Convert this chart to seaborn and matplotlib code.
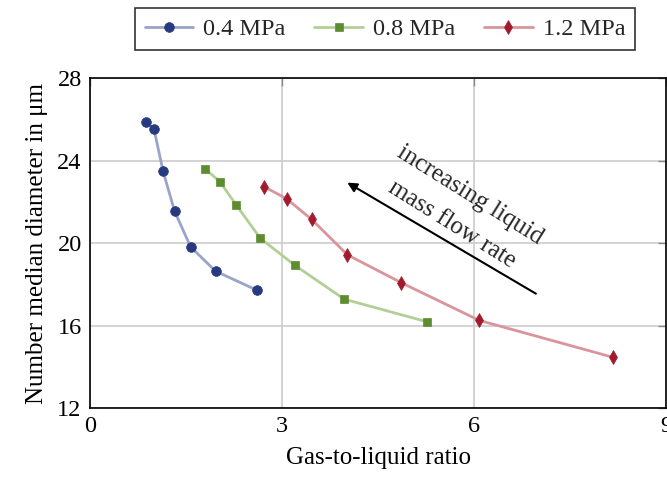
import matplotlib
matplotlib.use("Agg")
import matplotlib.pyplot as plt
import seaborn as sns
import pandas as pd

# Gas-to-liquid ratio and number median diameter for each atomizing pressure
glr_04 = [0.87, 1.00, 1.14, 1.32, 1.57, 1.96, 2.61]
d_04 = [25.87, 25.51, 23.49, 21.55, 19.82, 18.64, 17.71]

glr_08 = [1.80, 2.03, 2.28, 2.66, 3.20, 3.97, 5.27]
d_08 = [23.59, 22.97, 21.86, 20.23, 18.92, 17.28, 16.18]

glr_12 = [2.72, 3.07, 3.46, 4.02, 4.86, 6.08, 8.17]
d_12 = [22.73, 22.15, 21.15, 19.43, 18.08, 16.25, 14.46]

labels = ["0.4 MPa", "0.8 MPa", "1.2 MPa"]
x_ticks = [0, 3, 6, 9]
y_ticks = [12, 16, 20, 24, 28]

sns.set_theme(style="white")
plt.rcParams["font.family"] = ["Liberation Serif", "DejaVu Serif"]

series = [
    (glr_04, d_04, labels[0], "o", 7.0, "#27397f", "#9aa4c9"),
    (glr_08, d_08, labels[1], "s", 6.0, "#5e8c30", "#b3cf97"),
    (glr_12, d_12, labels[2], "d", 7.2, "#a11b2e", "#d9959c"),
]

fig = plt.figure(figsize=(6.67, 4.79), dpi=100)
ax = fig.add_axes([0.135, 0.148, 0.864, 0.689])

for xs, ys, lab, mk, ms, dark, light in series:
    df = pd.DataFrame({"glr": xs, "d": ys})
    sns.lineplot(data=df, x="glr", y="d", ax=ax, color=light, lw=2.0,
                 marker=mk, markersize=ms, markerfacecolor=dark,
                 markeredgecolor=dark, markeredgewidth=0.5, label=lab,
                 sort=False, zorder=3)

ax.set_xlim(0, 9)
ax.set_ylim(12, 28)
ax.set_xticks(x_ticks)
ax.set_yticks(y_ticks)
ax.grid(True, color="#cccccc", lw=1.2, zorder=0)
ax.set_axisbelow(True)
for s in ax.spines.values():
    s.set_color("black")
    s.set_linewidth(1.2)
ax.tick_params(axis="both", direction="in", length=6, width=1.0,
               color="#888888", labelsize=17.5, labelcolor="black",
               top=True, right=True, pad=6)

ax.set_xlabel("Gas-to-liquid ratio", fontsize=18, color="black", labelpad=7)
ax.set_ylabel("Number median diameter in μm", fontsize=18, color="black",
              labelpad=7)

# trend arrow with annotation
ax.annotate("", xy=(3.98, 23.0), xytext=(7.0, 17.48),
            arrowprops=dict(arrowstyle="-|>", color="black", lw=1.5,
                            mutation_scale=14))
ax.text(5.79, 21.62, "increasing liquid\nmass flow rate", fontsize=18,
        rotation=-32, ha="center", va="center", linespacing=1.75,
        rotation_mode="anchor")

handles, lbls = ax.get_legend_handles_labels()
leg = fig.legend(handles, lbls, loc="center", ncol=3,
                 bbox_to_anchor=(0.577, 0.939), frameon=True, fancybox=False,
                 fontsize=17.5, handlelength=2.0, columnspacing=1.2,
                 handletextpad=0.4, borderpad=0.4)
leg.get_frame().set_edgecolor("black")
leg.get_frame().set_linewidth(1.2)
if ax.get_legend():
    ax.get_legend().remove()

fig.savefig("out.png", dpi=100)
